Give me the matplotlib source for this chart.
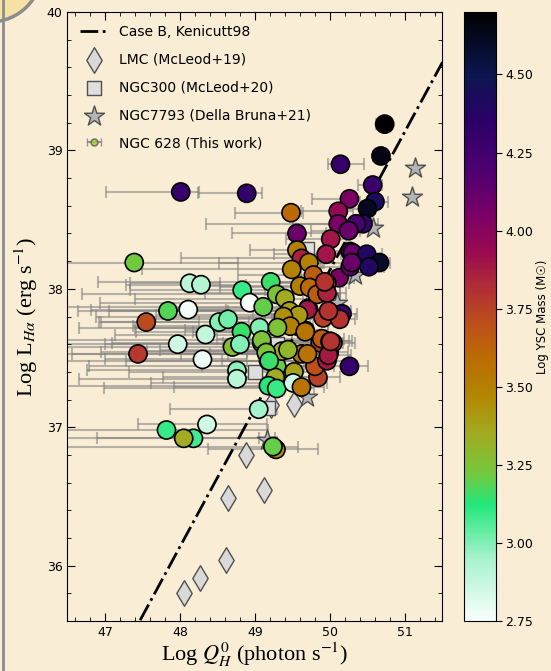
import numpy as np
import matplotlib
matplotlib.use("Agg")
import matplotlib.pyplot as plt
from matplotlib.colors import LinearSegmentedColormap
from matplotlib.ticker import AutoMinorLocator, MultipleLocator
from matplotlib.patches import Circle
from matplotlib.lines import Line2D

# NGC 628 clusters: log Q_H^0, log L_Halpha, log YSC mass, asymmetric x errors
log_q = [48.01, 48.89, 47.39, 48.13, 48.28, 48.83, 48.11, 48.93, 47.84, 47.55,
         48.52, 48.64, 48.82, 48.34, 47.97, 48.70, 48.80, 47.44, 48.30, 48.76,
         48.76, 49.09, 49.16, 49.18, 49.29, 49.27, 49.18, 49.29, 49.05, 49.36,
         49.62, 49.52, 49.51, 49.62, 49.84, 49.80, 49.96, 49.99, 49.87, 50.04,
         50.26, 47.82, 48.36, 48.18, 48.05, 49.28, 49.24, 50.73, 50.68, 50.14,
         50.57, 50.60, 50.50, 50.26, 50.11, 49.48, 50.44, 50.35, 50.11, 50.25,
         49.56, 50.01, 49.56, 50.27, 50.30, 50.49, 50.66, 50.52, 50.12, 50.27,
         49.95, 49.62, 49.72, 49.49, 49.78, 49.96, 49.84, 49.71, 49.98, 50.16,
         49.91, 50.13, 49.67, 49.89, 50.00, 50.29, 49.21, 49.29, 49.40, 49.60,
         49.73, 49.83, 49.96, 49.93, 49.70, 49.98, 49.46, 49.58, 49.38, 49.47,
         49.67, 49.11, 49.06, 49.30, 49.09, 49.15, 49.19, 49.44, 49.70, 49.98,
         50.01]
log_ha = [38.70, 38.69, 38.19, 38.04, 38.03, 37.99, 37.85, 37.90, 37.84, 37.76,
          37.76, 37.78, 37.69, 37.67, 37.60, 37.58, 37.60, 37.53, 37.49, 37.41,
          37.35, 37.61, 37.53, 37.48, 37.44, 37.36, 37.30, 37.28, 37.13, 37.55,
          37.53, 37.40, 37.32, 37.29, 37.36, 37.44, 37.48, 37.54, 37.61, 37.61,
          37.44, 36.98, 37.02, 36.92, 36.92, 36.84, 36.86, 39.19, 38.96, 38.90,
          38.75, 38.63, 38.58, 38.65, 38.56, 38.55, 38.47, 38.47, 38.47, 38.42,
          38.40, 38.36, 38.28, 38.27, 38.26, 38.25, 38.19, 38.16, 38.08, 38.16,
          38.25, 38.22, 38.19, 38.14, 38.10, 38.04, 37.97, 37.86, 37.82, 37.82,
          37.79, 37.78, 37.70, 37.64, 37.62, 38.19, 38.05, 37.96, 37.93, 38.02,
          38.01, 37.96, 37.97, 38.05, 37.85, 37.84, 37.84, 37.81, 37.80, 37.73,
          37.69, 37.87, 37.72, 37.72, 37.63, 37.54, 37.48, 37.56, 37.53, 37.52,
          37.62]
log_mass = [4.30, 4.32, 3.22, 2.90, 2.92, 3.10, 2.76, 2.75, 3.18, 3.72,
            3.00, 3.02, 3.15, 2.88, 2.85, 3.27, 3.00, 3.78, 2.78, 2.98,
            2.90, 3.27, 3.22, 3.15, 3.20, 3.35, 3.12, 3.10, 2.95, 3.35,
            3.55, 3.38, 2.85, 3.55, 3.75, 3.70, 3.90, 3.88, 3.78, 3.82,
            4.30, 3.10, 2.85, 3.08, 3.35, 3.45, 3.20, 4.70, 4.65, 4.30,
            4.28, 4.42, 4.62, 4.05, 3.95, 3.60, 4.30, 4.20, 4.05, 4.10,
            4.10, 3.90, 3.50, 4.25, 4.10, 4.40, 4.60, 4.40, 4.05, 4.15,
            3.90, 3.85, 3.50, 3.50, 3.65, 3.80, 3.65, 3.85, 3.80, 4.30,
            3.75, 3.80, 3.50, 3.65, 3.88, 4.10, 3.15, 3.25, 3.35, 3.50,
            3.60, 3.65, 3.85, 3.80, 3.88, 3.80, 3.38, 3.40, 3.45, 3.50,
            3.55, 3.20, 3.00, 3.25, 3.25, 3.25, 3.15, 3.30, 3.55, 3.88,
            3.80]
q_err_lo = [1.00, 0.65, 1.20, 0.80, 1.00, 1.50, 1.30, 2.00, 1.20, 0.60,
            1.60, 1.10, 1.40, 1.20, 1.50, 2.20, 1.80, 1.00, 1.30, 2.00,
            2.10, 2.00, 2.60, 1.90, 2.50, 1.50, 2.70, 2.30, 1.18, 1.80,
            1.60, 2.20, 1.90, 1.70, 1.20, 1.50, 1.40, 1.10, 1.30, 0.90,
            0.60, 1.50, 0.92, 1.28, 1.80, 0.91, 2.90, 0.11, 0.10, 0.16,
            0.20, 0.20, 0.30, 0.50, 0.50, 0.74, 0.30, 2.00, 0.60, 0.50,
            0.87, 0.60, 0.63, 0.30, 0.30, 0.20, 0.20, 0.30, 0.50, 0.40,
            0.70, 1.60, 1.20, 2.00, 1.00, 0.80, 1.50, 1.80, 0.90, 0.70,
            1.30, 0.90, 1.60, 1.40, 1.10, 0.40, 2.30, 2.60, 2.00, 1.40,
            1.20, 0.90, 0.70, 0.80, 1.70, 1.00, 2.40, 1.90, 2.50, 2.10,
            1.50, 2.70, 2.40, 1.90, 2.60, 2.20, 2.80, 1.70, 1.30, 0.90,
            1.00]
q_err_hi = [0.25, 0.20, 1.38, 0.40, 0.60, 0.30, 0.50, 0.30, 0.80, 0.70,
            0.40, 0.50, 0.40, 0.60, 0.70, 0.40, 0.50, 1.20, 0.60, 0.50,
            0.60, 0.40, 0.45, 0.50, 0.40, 0.50, 0.40, 0.50, 0.24, 0.40,
            0.30, 0.40, 0.45, 0.30, 0.30, 0.25, 0.30, 0.25, 0.30, 0.30,
            0.25, 1.35, 0.80, 1.09, 1.00, 0.56, 0.33, 0.05, 0.10, 0.32,
            0.13, 0.17, 0.10, 0.10, 0.20, 0.16, 0.20, 0.20, 0.20, 0.15,
            0.39, 0.20, 0.20, 0.20, 0.15, 0.20, 0.14, 0.20, 0.20, 0.20,
            0.20, 0.25, 0.20, 0.30, 0.25, 0.30, 0.30, 0.30, 0.25, 0.20,
            0.30, 0.20, 0.30, 0.30, 0.30, 0.20, 0.30, 0.35, 0.30, 0.30,
            0.30, 0.30, 0.25, 0.25, 0.30, 0.30, 0.35, 0.30, 0.35, 0.30,
            0.30, 0.40, 0.40, 0.35, 0.40, 0.40, 0.35, 0.35, 0.30, 0.30,
            0.25]

# comparison samples
lmc_q = [48.05, 48.27, 48.61, 48.64, 49.12, 48.88, 49.52, 49.22]
lmc_ha = [35.80, 35.91, 36.04, 36.49, 36.55, 36.80, 37.17, 37.16]
ngc300_q = [49.17, 49.69, 49.30, 49.00]
ngc300_ha = [37.14, 38.29, 37.60, 37.40]
ngc7793_q = [51.14, 51.10, 50.58, 50.33, 49.70, 49.16, 50.09]
ngc7793_ha = [38.87, 38.66, 38.44, 38.10, 37.22, 36.91, 37.90]

bg = "#f9edd5"
mass_colors = ["#f8fffb", "#a6f2cc", "#22e87a", "#74c83e", "#a3aa20",
               "#b38400", "#bb6a05", "#bb4a1e", "#ae2a38", "#9a0a50",
               "#7a0066", "#4c0070", "#2c0068", "#0c1650", "#000000"]
mass_nodes = [2.75, 2.95, 3.12, 3.22, 3.35, 3.48, 3.6, 3.72, 3.83, 3.93,
              4.05, 4.2, 4.35, 4.5, 4.7]
vmin, vmax = 2.75, 4.7
cmap = LinearSegmentedColormap.from_list(
    "ysc", [((n - vmin) / (vmax - vmin), c) for n, c in zip(mass_nodes, mass_colors)])

plt.rcParams["mathtext.fontset"] = "stix"

fig = plt.figure(figsize=(5.51, 6.71), dpi=100, facecolor=bg)
ax = fig.add_axes([0.1225, 0.0745, 0.6805, 0.9076], facecolor=bg)
cax = fig.add_axes([0.843, 0.0745, 0.0563, 0.9076])

# frame remnants at the top-left corner of the screenshot
fig.patches.append(Circle((-10, 671 + 30), 52, transform=None,
                          facecolor="#f6e2a4", edgecolor="#8c8c8c", lw=2.5))
fig.lines.append(Line2D([2.5, 2.5], [0, 671], transform=None,
                        color="#8c8c8c", lw=2))

# Case B line (Kennicutt 1998)
qline = np.array([46.5, 51.5])
ax.plot(qline, qline - 11.863, color="black", ls="-.", lw=2, zorder=1.5,
        label="Case B, Kenicutt98")

ax.scatter(lmc_q, lmc_ha, marker="d", s=170, facecolor="#d9d9d9",
           edgecolor="#505050", lw=1, zorder=2, label="LMC (McLeod+19)")
ax.scatter(ngc300_q, ngc300_ha, marker="s", s=90, facecolor="#dedede",
           edgecolor="#505050", lw=1, zorder=2, label="NGC300 (McLeod+20)")
ax.scatter(ngc7793_q, ngc7793_ha, marker="*", s=230, facecolor="#b4b4b4",
           edgecolor="#505050", lw=1, zorder=2, label="NGC7793 (Della Bruna+21)")

ax.errorbar(log_q, log_ha, xerr=[q_err_lo, q_err_hi], fmt="none",
            ecolor="gray", alpha=0.55, elinewidth=1.5, capsize=4, capthick=1.5,
            zorder=1)
sc = ax.scatter(log_q, log_ha, c=log_mass, cmap=cmap, vmin=vmin, vmax=vmax,
                s=170, edgecolor="black", lw=1.2, zorder=3)

# legend proxy for this work
ax.errorbar([np.nan], [np.nan], xerr=[[0.1], [0.1]], fmt="o", ms=5,
            mfc="yellowgreen", mec="#505050", ecolor="gray", alpha=0.8,
            capsize=3, label="NGC 628 (This work)")

ax.set_xlim(46.5, 51.5)
ax.set_ylim(35.6, 40)
ax.xaxis.set_major_locator(MultipleLocator(1))
ax.yaxis.set_major_locator(MultipleLocator(1))
ax.xaxis.set_minor_locator(AutoMinorLocator(5))
ax.yaxis.set_minor_locator(AutoMinorLocator(5))
ax.tick_params(which="both", direction="in", top=True, right=True,
               labelsize=9)
ax.tick_params(which="major", length=6)
ax.tick_params(which="minor", length=3)

ax.set_xlabel(r"Log $Q_H^0$ (photon s$^{-1}$)", fontsize=16,
              family="Liberation Serif", labelpad=1)
ax.set_ylabel(r"Log L$_{H\alpha}$ (erg s$^{-1}$)", fontsize=16,
              family="Liberation Serif", labelpad=5)

ax.legend(loc="upper left", frameon=False, fontsize=10, labelspacing=1.0,
          handlelength=2.0, borderaxespad=0.5)

cbar = fig.colorbar(sc, cax=cax)
cbar.set_ticks([2.75, 3.0, 3.25, 3.5, 3.75, 4.0, 4.25, 4.5])
cbar.ax.set_yticklabels(["2.75", "3.00", "3.25", "3.50", "3.75", "4.00",
                         "4.25", "4.50"])
cbar.ax.tick_params(labelsize=9, length=4, pad=3)
cbar.set_label("Log YSC Mass (M\u2609)", fontsize=8.5)
cbar.ax.yaxis.set_label_coords(2.29, 0.5)

fig.savefig("out.png", dpi=100, facecolor=bg)
plt.close(fig)
